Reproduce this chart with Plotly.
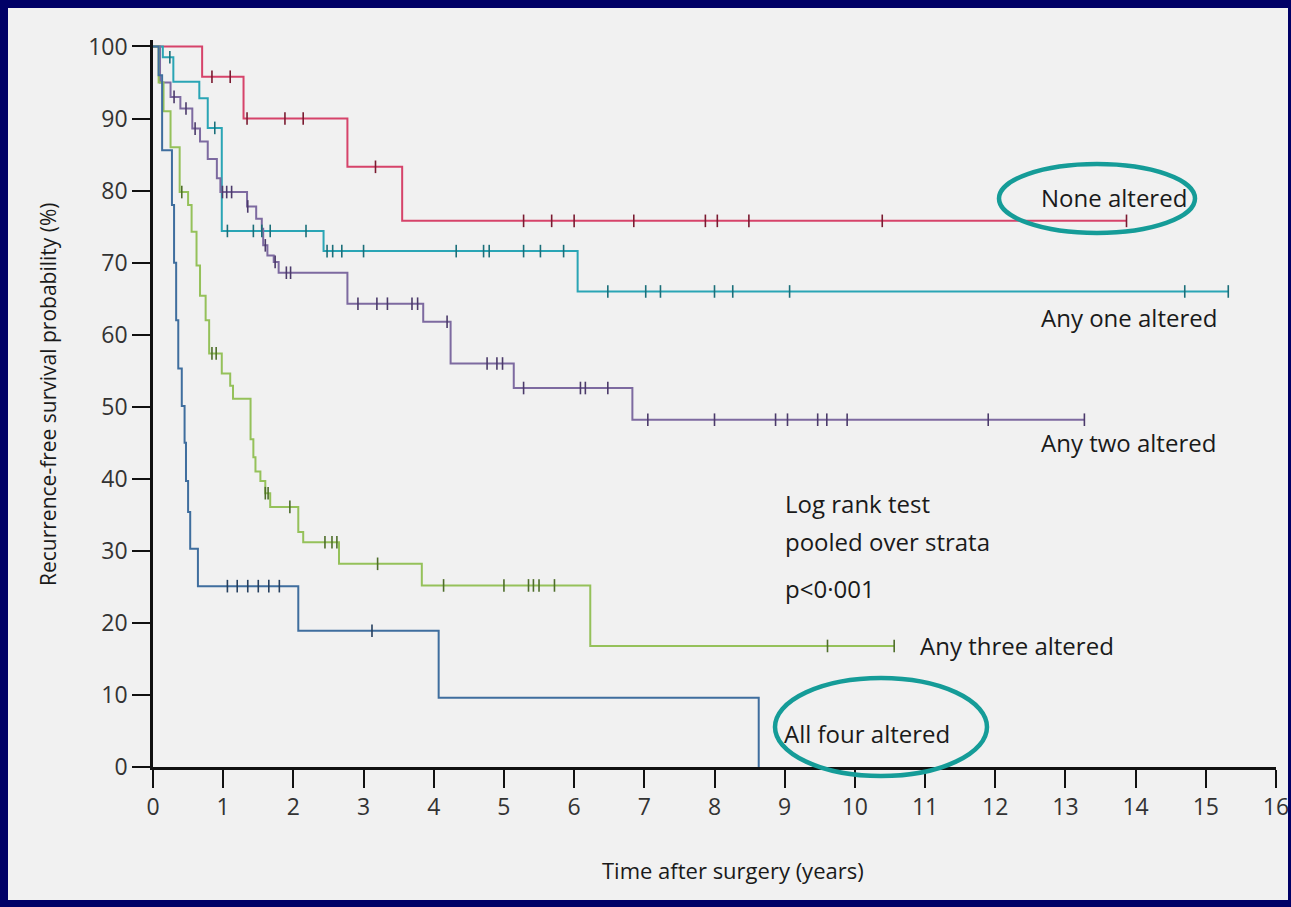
import plotly.graph_objects as go

# ---------------- data ----------------
none_t = [0, 0.70, 1.29, 2.77, 3.55, 13.87]
none_s = [100, 95.8, 90.0, 83.3, 75.8, 75.8]
none_c = [0.84, 1.10, 1.34, 1.88, 2.14, 3.17, 5.28, 5.68, 6.00, 6.85, 7.87, 8.04, 8.49, 10.39, 13.87]

one_t = [0, 0.14, 0.29, 0.66, 0.78, 0.98, 2.43, 6.05, 15.32]
one_s = [100, 98.5, 95.1, 92.8, 88.7, 74.4, 71.6, 66.0, 66.0]
one_c = [0.24, 0.88, 1.06, 1.43, 1.55, 1.67, 2.18, 2.48, 2.56, 2.69, 3.00, 4.32, 4.71,
         4.79, 5.28, 5.52, 5.85, 6.48, 7.02, 7.23, 8.00, 8.26, 9.07, 14.70, 15.32]

two_t = [0, 0.10, 0.25, 0.39, 0.56, 0.67, 0.78, 0.91, 0.96, 1.34, 1.47, 1.55, 1.57, 1.63,
         1.72, 1.79, 2.77, 3.85, 4.24, 5.14, 6.83, 13.27]
two_s = [100, 95.0, 93.0, 91.4, 88.6, 86.8, 84.4, 81.7, 79.8, 77.8, 76.1, 74.7, 72.4, 71.0,
         70.1, 68.6, 64.3, 61.8, 56.0, 52.6, 48.2, 48.2]
two_c = [0.30, 0.47, 0.60, 0.99, 1.05, 1.12, 1.35, 1.60, 1.74, 1.90, 1.96, 2.92, 3.19, 3.34,
         3.69, 3.77, 4.19, 4.76, 4.90, 4.98, 5.28, 6.09, 6.16, 6.48, 7.05, 8.00, 8.87, 9.04,
         9.47, 9.60, 9.89, 11.90, 13.27]

three_t = [0, 0.08, 0.15, 0.25, 0.38, 0.50, 0.55, 0.62, 0.67, 0.75, 0.80, 0.98, 1.10, 1.14,
           1.39, 1.43, 1.46, 1.53, 1.60, 1.67, 2.07, 2.14, 2.65, 3.83, 6.23, 10.56]
three_s = [100, 95.0, 91.0, 86.0, 79.8, 78.0, 74.3, 69.6, 65.4, 62.0, 57.4, 54.6, 52.9, 51.1,
           45.5, 43.0, 41.0, 39.7, 38.0, 36.1, 32.6, 31.2, 28.2, 25.2, 16.8, 16.8]
three_c = [0.41, 0.84, 0.90, 1.60, 1.64, 1.95, 2.45, 2.55, 2.62, 3.20, 4.14, 5.00, 5.35,
           5.42, 5.50, 5.72, 9.61, 10.56]

four_t = [0, 0.08, 0.13, 0.27, 0.30, 0.33, 0.36, 0.41, 0.45, 0.47, 0.50, 0.53, 0.64, 2.07,
          4.07, 8.63]
four_s = [100, 96.0, 85.6, 78.0, 70.0, 62.0, 55.3, 50.1, 45.0, 39.7, 35.4, 30.3, 25.1, 18.9,
          9.6, 0]
four_c = [1.06, 1.20, 1.35, 1.50, 1.65, 1.80, 3.12]

series_names = ["None altered", "Any one altered", "Any two altered",
                "Any three altered", "All four altered"]
x_ticks = list(range(0, 17))
y_ticks = list(range(0, 101, 10))

# ---------------- styling ----------------
NAVY = "#000066"
PANEL = "#f1f1f1"
TEAL_RING = "#159c98"
FONT = "Open Sans"

line_colors = ["#d6436a", "#2aa5b5", "#7d6aa0", "#95c15a", "#3f6e9e"]
mark_colors = ["#7a1a30", "#1b6f7a", "#4b3a6a", "#4e6e2a", "#253f5e"]

W, H = 1291, 907
X0PX, X1PX = 153, 1276   # x=0 and x=16
Y0PX, Y1PX = 767, 40     # y=0 and top of axis
YMAX = 100.9


def px_x(px):
    return (px - X0PX) / (X1PX - X0PX)


def px_y(py):
    return (Y0PX - py) / (Y0PX - Y1PX)


def surv_at(ts, ss, t):
    v = ss[0]
    for ti, si in zip(ts, ss):
        if ti <= t:
            v = si
    return v


fig = go.Figure()

curves = [(none_t, none_s, none_c), (one_t, one_s, one_c), (two_t, two_s, two_c),
          (three_t, three_s, three_c), (four_t, four_s, four_c)]

for i, (ts, ss, cs) in enumerate(curves):
    fig.add_trace(go.Scatter(
        x=ts, y=ss, mode="lines", line=dict(shape="hv", color=line_colors[i], width=2),
        name=series_names[i], showlegend=False, hoverinfo="skip"))
for i, (ts, ss, cs) in enumerate(curves):
    fig.add_trace(go.Scatter(
        x=cs, y=[surv_at(ts, ss, c) for c in cs], mode="markers",
        marker=dict(symbol="line-ns", size=9, line=dict(color=mark_colors[i], width=1.6)),
        showlegend=False, hoverinfo="skip"))

shapes = [
    dict(type="rect", xref="paper", yref="paper", x0=px_x(8), x1=px_x(1288),
         y0=px_y(900), y1=px_y(8), fillcolor=PANEL, line=dict(width=0), layer="below"),
    dict(type="rect", xref="paper", yref="paper", x0=px_x(1288), x1=px_x(1300),
         y0=px_y(910), y1=px_y(-5), fillcolor=NAVY, line=dict(width=0), layer="above"),
    dict(type="circle", xref="paper", yref="paper", x0=px_x(999), x1=px_x(1195),
         y0=px_y(233), y1=px_y(164), line=dict(color=TEAL_RING, width=4.5), layer="above"),
    dict(type="circle", xref="paper", yref="paper", x0=px_x(775), x1=px_x(987),
         y0=px_y(776), y1=px_y(678), line=dict(color=TEAL_RING, width=4.5), layer="above"),
]

txt = dict(family=FONT, size=24, color="#1a1a1a")
annotations = []
labels = [
    ("None altered", 1039, 198),
    ("Any one altered", 1039, 317),
    ("Any two altered", 1039, 442),
    ("Any three altered", 918, 645),
    ("All four altered", 782, 733),
    ("Log rank test", 783, 504),
    ("pooled over strata", 783, 541),
    ("p<0·001", 783, 588),
]
for text, lx, ly in labels:
    annotations.append(dict(text=text, xref="paper", yref="paper", x=px_x(lx), y=px_y(ly),
                            xanchor="left", yanchor="middle", showarrow=False, font=txt))

annotations.append(dict(text="Time after surgery (years)", xref="paper", yref="paper",
                        x=px_x(733), y=px_y(870), xanchor="center", yanchor="middle",
                        showarrow=False, font=dict(family=FONT, size=22, color="#1a1a1a")))
annotations.append(dict(text="Recurrence-free survival probability (%)", xref="paper",
                        yref="paper", x=px_x(48), y=px_y(394), xanchor="center",
                        yanchor="middle", textangle=-90, showarrow=False,
                        font=dict(family=FONT, size=21, color="#1a1a1a")))

axis_common = dict(showgrid=False, zeroline=False, showline=True, linecolor="#111111",
                   linewidth=2.5, ticks="outside", ticklen=18, tickwidth=2,
                   tickcolor="#111111", tickfont=dict(family=FONT, size=23, color="#333333"),
                   fixedrange=True, automargin=False)

fig.update_layout(
    width=W, height=H,
    margin=dict(l=X0PX, r=W - X1PX, t=Y1PX, b=H - Y0PX, autoexpand=False),
    paper_bgcolor=NAVY, plot_bgcolor=PANEL,
    xaxis=dict(range=[0, 16], tickmode="array", tickvals=x_ticks,
               ticktext=[str(v) for v in x_ticks], **axis_common),
    yaxis=dict(range=[0, YMAX], tickmode="array", tickvals=y_ticks,
               ticktext=[str(v) for v in y_ticks], **axis_common),
    shapes=shapes, annotations=annotations,
)

fig.write_html("out.html")
